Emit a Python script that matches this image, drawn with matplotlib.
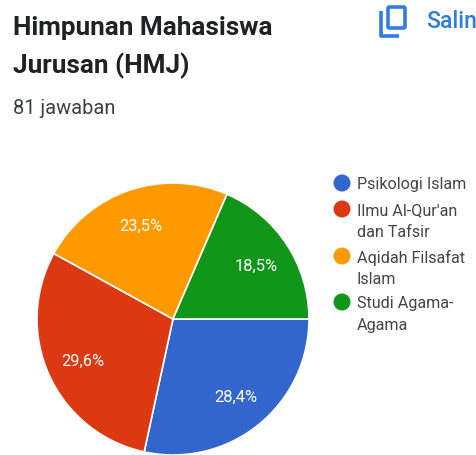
import matplotlib
matplotlib.use("Agg")
import matplotlib.pyplot as plt
from matplotlib.patches import Circle, FancyBboxPatch

# --- data ---
labels = ["Psikologi Islam", "Ilmu Al-Qur'an\ndan Tafsir", "Aqidah Filsafat\nIslam", "Studi Agama-\nAgama"]
values = [28.4, 29.6, 23.5, 18.5]
pct_labels = ["28,4%", "29,6%", "23,5%", "18,5%"]
colors = ["#3366cc", "#dc3912", "#ff9900", "#109618"]

W, H = 477, 455
plt.rcParams['font.family'] = ['Roboto', 'DejaVu Sans']

fig = plt.figure(figsize=(W / 100, H / 100), dpi=100)
bg = fig.add_axes([0, 0, 1, 1])
bg.set_xlim(0, W)
bg.set_ylim(H, 0)
bg.axis("off")

# header
bg.text(13, 28.5, "Himpunan Mahasiswa", fontsize=18.8, fontweight="bold", color="#202124", va="center")
bg.text(13, 65.5, "Jurusan (HMJ)", fontsize=18.8, fontweight="bold", color="#202124", va="center")
bg.text(13, 109, "81 jawaban", fontsize=14.4, color="#3c4043", va="center")

# copy icon
blue = "#2f7de1"
bg.plot([381, 381, 399], [11, 36, 36], color=blue, lw=2.6, solid_capstyle="butt", solid_joinstyle="round")
bg.add_patch(FancyBboxPatch((388, 7), 17, 21, boxstyle="round,pad=0,rounding_size=1.5", fc="white", ec=blue, lw=2.6))
bg.text(426, 21.5, "Salin", fontsize=16.6, fontweight="medium", color=blue, va="center")

# pie
ax = fig.add_axes([(173 - 136) / W, 1 - (319 + 136) / H, 272 / W, 272 / H])
wedges, _, autotexts = ax.pie(
    values, colors=colors, startangle=0, counterclock=False,
    labels=None, autopct=lambda p: "", pctdistance=0.73,
    wedgeprops=dict(edgecolor="white", linewidth=1.2), radius=1.0,
)
for t, s in zip(autotexts, pct_labels):
    t.set_text(s)
    t.set_color("white")
    t.set_fontsize(11.9)
    t.set_va("center_baseline")
ax.set_xlim(-1, 1)
ax.set_ylim(-1, 1)

# legend
leg_y = [183, 209, 256, 302]
for y, lab, c in zip(leg_y, labels, colors):
    bg.add_patch(Circle((342, y), 8.5, fc=c, ec="none"))
    for i, line in enumerate(lab.split("\n")):
        bg.text(357, y + 1.5 + i * 22, line, fontsize=11.6, color="#444444", va="center")

fig.savefig("out.png", dpi=100)
